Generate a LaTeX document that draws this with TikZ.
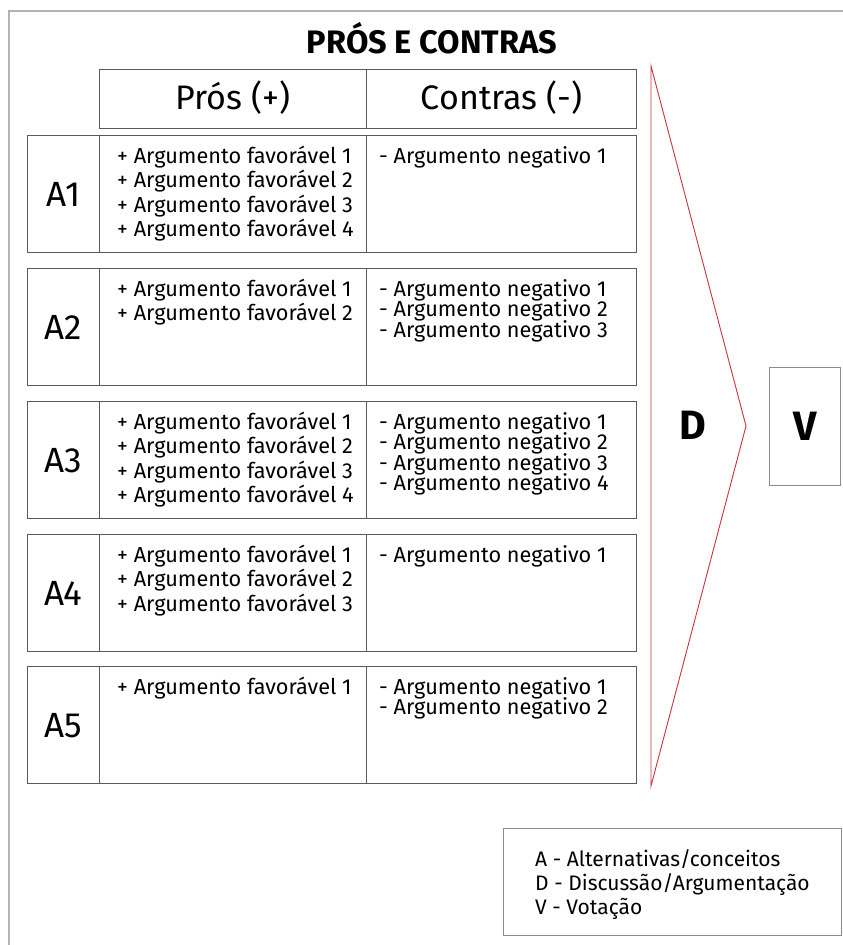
\documentclass[tikz,border=0pt]{standalone}
\usepackage{fontspec}
\setmainfont{Fira Sans}
\definecolor{framegray}{HTML}{B4B4B4}
\definecolor{tablegray}{HTML}{5A5A5A}
\definecolor{boxgray}{HTML}{8C8C8C}
\definecolor{arrowred}{HTML}{C8323C}
\begin{document}
\begin{tikzpicture}[x=1pt,y=-1pt,
  cellbox/.style={draw=tablegray, line width=0.9pt, inner sep=0pt,
    anchor=north west, minimum height=#1},
  cellbox/.default=117pt,
  bodytext/.style={anchor=base west, inner sep=0pt, font=\fontsize{21.7}{21.7}\selectfont},
  legendtext/.style={anchor=base west, inner sep=0pt, font=\fontsize{21}{21}\selectfont},
  headtext/.style={anchor=base, inner sep=0pt, font=\fontsize{34}{34}\selectfont},
  labeltext/.style={anchor=base, inner sep=0pt, font=\fontsize{35}{35}\selectfont},
  bigletter/.style={anchor=base, inner sep=0pt, font=\fontsize{41}{41}\selectfont\bfseries},
  greybox/.style={draw=boxgray, line width=1pt, inner sep=0pt, anchor=north west}]

\useasboundingbox (0,0) rectangle (843,945);

% outer frame (only its left and top edges fall inside the page)
\draw[framegray, line width=1.2pt] (9,950) -- (9,11) -- (850,11);

% title
\node[anchor=base, inner sep=0pt, font=\fontsize{32.5}{32.5}\selectfont\bfseries]
  (title) at (432,53) {PRÓS E CONTRAS};

% column headers
\node[cellbox=59pt, minimum width=267pt] (hp) at (99,69) {};
\node[cellbox=59pt, minimum width=270pt] (hc) at (366,69) {};
\node[headtext] (hptext) at ([yshift=-11pt]hp.center) {Prós (+)};
\node[headtext] (hctext) at ([yshift=-11pt]hc.center) {Contras (-)};

% alternatives with their arguments
\foreach \i/\t/\np/\nc in {1/135/4/1, 2/268/2/3, 3/401/4/4, 4/534/3/1, 5/666/1/2}{
  \node[cellbox, minimum width=72pt]  (a\i) at (27,\t) {};
  \node[cellbox, minimum width=267pt] (p\i) at (99,\t) {};
  \node[cellbox, minimum width=270pt] (c\i) at (366,\t) {};
  \node[labeltext] (alab\i) at ([yshift=-13pt]a\i.center) {A\i};
  \foreach \j in {1,...,\np}{
    \node[bodytext] (p\i-\j) at ([xshift=18pt,yshift={-28pt-24.5pt*(\j-1)}]p\i.north west)
      {+ Argumento favorável \j};
  }
  \foreach \j in {1,...,\nc}{
    \node[bodytext] (c\i-\j) at ([xshift=13pt,yshift={-28pt-20.5pt*(\j-1)}]c\i.north west)
      {- Argumento negativo \j};
  }
}

% discussion arrow
\coordinate (dtop) at (651,66);
\coordinate (dtip) at (746,426);
\coordinate (dbot) at (651,786);
\draw[arrowred, line width=0.9pt, line join=miter] (dtop) -- (dtip) -- (dbot) -- cycle;
\node[bigletter] (dlab) at (693,439) {D};

% vote box
\node[greybox, minimum width=71pt, minimum height=118pt] (vbox) at (769,367) {};
\node[bigletter] (vlab) at ([yshift=-14pt]vbox.center) {V};

% legend
\node[greybox, minimum width=338pt, minimum height=107pt] (legend) at (503,828) {};
\node[legendtext] (leg1) at (535,866) {A - Alternativas/conceitos};
\node[legendtext] (leg2) at (535,890) {D - Discussão/Argumentação};
\node[legendtext] (leg3) at (535,914) {V - Votação};
\end{tikzpicture}
\end{document}
